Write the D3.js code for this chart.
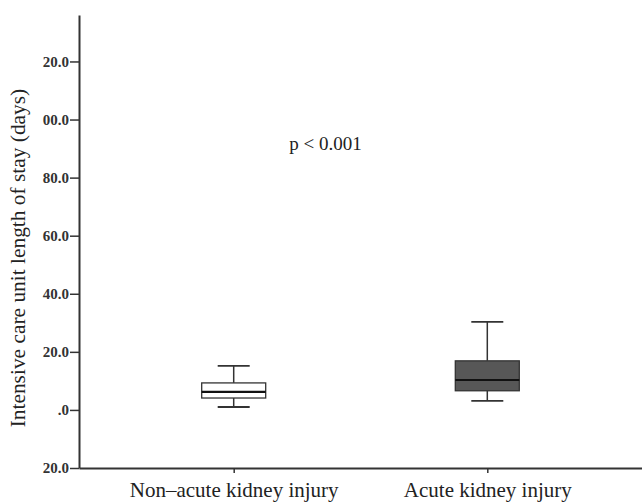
<!DOCTYPE html>
<html>
<head>
<meta charset="utf-8">
<script src="https://cdn.jsdelivr.net/npm/d3@7"></script>
<style>
  body { margin: 0; background: #fff; }
  svg { display: block; }
</style>
</head>
<body>
<div id="wrapper"></div>
<script>
// Data
const categories = ["Non\u2013acute kidney injury", "Acute kidney injury"]
const whiskerLow  = [1.0, 3.1]
const q1Values    = [4.1, 6.6]
const medians     = [6.2, 10.3]
const q3Values    = [9.3, 16.9]
const whiskerHigh = [15.2, 30.3]
const boxFills    = ["#ffffff", "#575757"]
const tickValues  = [120, 100, 80, 60, 40, 20, 0, -20]
const tickLabels  = ["20.0", "00.0", "80.0", "60.0", "40.0", "20.0", ".0", "20.0"]

const boxes = categories.map((c, i) => ({
    category: c,
    low: whiskerLow[i],
    q1: q1Values[i],
    median: medians[i],
    q3: q3Values[i],
    high: whiskerHigh[i],
    fill: boxFills[i],
}))

// Chart dimensions
let dimensions = {
    width: 642,
    height: 503,
    margin: { top: 15, right: 0, bottom: 35, left: 79 },
}
dimensions.boundedWidth = dimensions.width - dimensions.margin.left - dimensions.margin.right
dimensions.boundedHeight = dimensions.height - dimensions.margin.top - dimensions.margin.bottom

// Draw canvas
const wrapper = d3.select("#wrapper")
    .append("svg")
        .attr("width", dimensions.width)
        .attr("height", dimensions.height)
const bounds = wrapper.append("g")
    .attr("transform", `translate(${dimensions.margin.left},${dimensions.margin.top})`)

// Scales
const yScale = d3.scaleLinear()
    .domain([-20, 136])
    .range([dimensions.boundedHeight, 0])

const xScale = d3.scalePoint()
    .domain(categories)
    .range([0, dimensions.boundedWidth])
    .padding(0.61)

const boxWidth = 64
const capWidth = 32
const ink = "#333"
const serif = "'Liberation Serif', 'Times New Roman', serif"

// Boxes
const groups = bounds.selectAll(".box")
    .data(boxes)
    .join("g")
        .attr("class", "box")
        .attr("transform", d => `translate(${xScale(d.category)},0)`)

groups.append("line")
    .attr("y1", d => yScale(d.high))
    .attr("y2", d => yScale(d.q3))
    .attr("stroke", ink).attr("stroke-width", 1.5)
groups.append("line")
    .attr("y1", d => yScale(d.q1))
    .attr("y2", d => yScale(d.low))
    .attr("stroke", ink).attr("stroke-width", 1.5)
groups.selectAll(".cap")
    .data(d => [d.high, d.low])
    .join("line")
        .attr("class", "cap")
        .attr("x1", -capWidth / 2).attr("x2", capWidth / 2)
        .attr("y1", v => yScale(v)).attr("y2", v => yScale(v))
        .attr("stroke", ink).attr("stroke-width", 1.8)
groups.append("rect")
    .attr("x", -boxWidth / 2)
    .attr("width", boxWidth)
    .attr("y", d => yScale(d.q3))
    .attr("height", d => yScale(d.q1) - yScale(d.q3))
    .attr("fill", d => d.fill)
    .attr("stroke", ink).attr("stroke-width", 1.3)
groups.append("line")
    .attr("x1", -boxWidth / 2).attr("x2", boxWidth / 2)
    .attr("y1", d => yScale(d.median)).attr("y2", d => yScale(d.median))
    .attr("stroke", "#111").attr("stroke-width", 2.2)

// Axes
const yAxis = d3.axisLeft(yScale)
    .tickValues(tickValues)
    .tickFormat((d, i) => tickLabels[i])
    .tickSize(9)
    .tickSizeOuter(0)
const yAxisG = bounds.append("g").call(yAxis)
yAxisG.select(".domain").attr("stroke", ink).attr("stroke-width", 2)
yAxisG.selectAll(".tick line").attr("stroke", ink).attr("stroke-width", 1.5)
yAxisG.selectAll(".tick text")
    .attr("x", -10)
    .attr("fill", "#333")
    .style("font-family", serif)
    .style("font-size", "15px")
    .style("font-weight", "bold")

const xAxis = d3.axisBottom(xScale)
    .tickSize(5)
    .tickSizeOuter(0)
const xAxisG = bounds.append("g")
    .attr("transform", `translate(0,${yScale(-20)})`)
    .call(xAxis)
xAxisG.select(".domain").attr("stroke", ink).attr("stroke-width", 2)
xAxisG.selectAll(".tick line").attr("stroke", ink).attr("stroke-width", 1.5)
xAxisG.selectAll(".tick text")
    .attr("y", 14)
    .attr("fill", "#222")
    .style("font-family", serif)
    .style("font-size", "21px")

// Peripherals
wrapper.append("text")
    .attr("transform", `translate(25,${dimensions.margin.top + yScale(52.3)}) rotate(-90)`)
    .attr("text-anchor", "middle")
    .attr("fill", "#222")
    .style("font-family", serif)
    .style("font-size", "21.4px")
    .text("Intensive care unit length of stay (days)")

bounds.append("text")
    .attr("x", (xScale(categories[0]) + xScale(categories[1])) / 2 - 35)
    .attr("y", yScale(89.5))
    .attr("text-anchor", "middle")
    .attr("fill", "#222")
    .style("font-family", serif)
    .style("font-size", "19px")
    .text("p < 0.001")
</script>
</body>
</html>
